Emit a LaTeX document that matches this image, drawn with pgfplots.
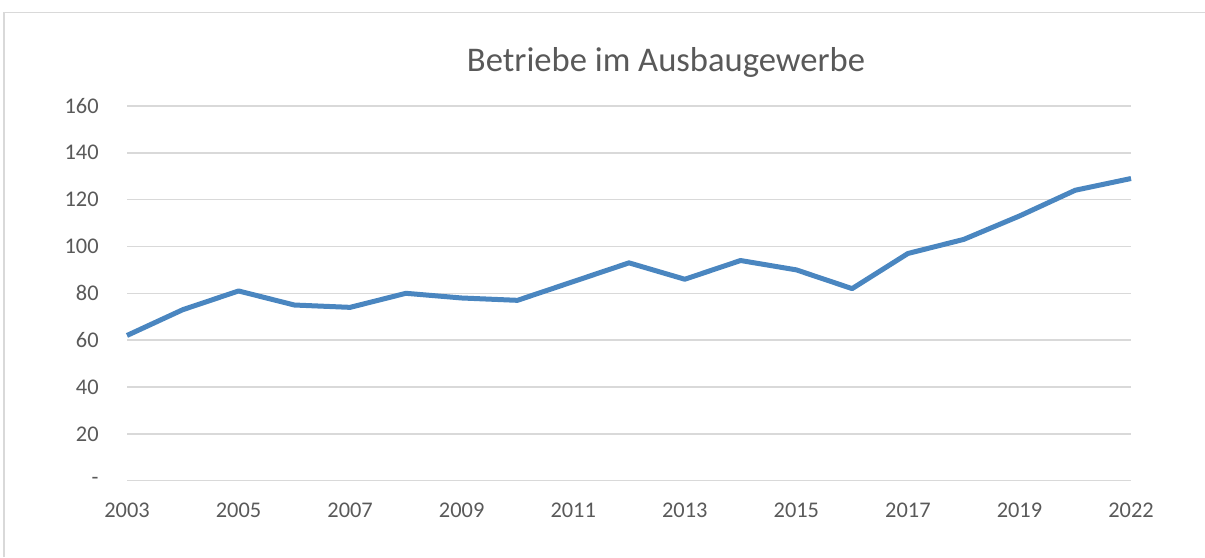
\documentclass[border=0pt]{standalone}
\usepackage{fontspec}
\setmainfont{Carlito}
\usepackage{pgfplots}
\pgfplotsset{compat=1.18}
\definecolor{linec}{RGB}{74,134,192}
\definecolor{gridc}{RGB}{217,217,217}
\definecolor{textc}{RGB}{89,89,89}
\begin{document}
\begin{tikzpicture}[x=1bp,y=1bp]
\useasboundingbox (0,0) rectangle (602.5,278.5);
\draw[gridc, line width=0.6bp] (2,0) -- (2,272.15) -- (602.5,272.15);
\node[anchor=base, text=textc, font=\fontsize{17.3bp}{20bp}\selectfont, inner sep=0pt] at (333,242.65) {Betriebe im Ausbaugewerbe};
\begin{axis}[
  at={(63.5bp,38.15bp)}, anchor=south west,
  scale only axis, width=502bp, height=187.4bp,
  xmin=0, xmax=18, ymin=0, ymax=160,
  axis line style={draw=none},
  tick style={draw=none},
  ymajorgrids, major grid style={gridc, line width=0.75bp},
  xtick={0,2,...,18},
  xticklabels={2003,2005,2007,2009,2011,2013,2015,2017,2019,2022},
  ytick={0,20,...,160},
  yticklabels={-,20,40,60,80,100,120,140,160},
  /pgf/number format/assume math mode=true,
  ticklabel style={font=\fontsize{11.2bp}{13bp}\selectfont, text=textc, inner sep=0pt},
  yticklabel style={anchor=east, xshift=-14bp},
  xticklabel style={anchor=north, yshift=-11bp},
  clip=false,
]
\addplot[linec, line width=2.5bp, line join=round] coordinates {
(0,62) (1,73) (2,81) (3,75) (4,74) (5,80) (6,78) (7,77) (8,85) (9,93)
(10,86) (11,94) (12,90) (13,82) (14,97) (15,103) (16,113) (17,124) (18,129)
};
\end{axis}
\end{tikzpicture}
\end{document}
